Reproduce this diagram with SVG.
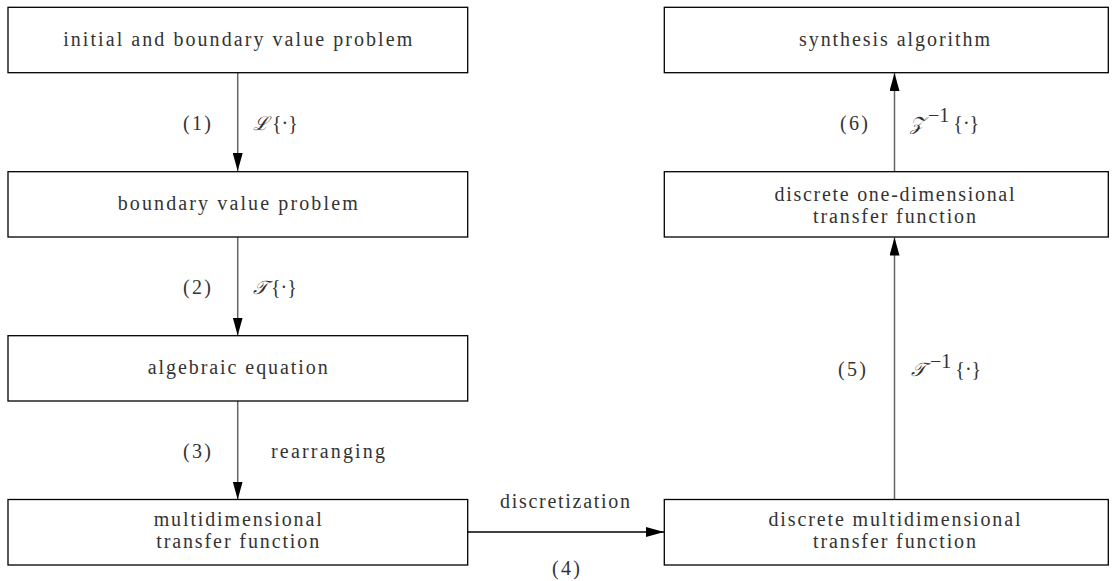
<svg xmlns="http://www.w3.org/2000/svg" width="1115" height="581" viewBox="0 0 1115 581">
<style>
.box{fill:#fff;stroke:#000;stroke-width:1.3}
.t{font-family:"Liberation Serif","DejaVu Serif",serif;font-size:20px;fill:#333;text-anchor:middle}
.l{font-family:"Liberation Serif","DejaVu Serif",serif;font-size:20px;fill:#333}
.m{font-family:"DejaVu Serif","Liberation Serif",serif;font-style:italic;font-size:19px;fill:#333}
.c{stroke:#666;stroke-width:1.5;fill:none}
.ch{stroke:#000;stroke-width:1.3;fill:none}
</style>
<defs>
<marker id="ah" viewBox="0 0 18 10" refX="18" refY="5" markerWidth="18" markerHeight="10" markerUnits="userSpaceOnUse" orient="auto">
<path d="M0,0 L18,5 L0,10 z" fill="#000"/>
</marker>
</defs>
<g id="connectors">
<line class="c" x1="237.7" y1="72.7" x2="237.7" y2="171" marker-end="url(#ah)"/>
<line class="c" x1="237.7" y1="237" x2="237.7" y2="335.5" marker-end="url(#ah)"/>
<line class="c" x1="237.7" y1="401" x2="237.7" y2="499.5" marker-end="url(#ah)"/>
<line class="ch" x1="467.7" y1="532" x2="664" y2="532" marker-end="url(#ah)"/>
<line class="c" x1="894.5" y1="499.5" x2="894.5" y2="237.5" marker-end="url(#ah)"/>
<line class="c" x1="894.5" y1="171.5" x2="894.5" y2="73" marker-end="url(#ah)"/>
<text class="l" x="183" y="130" textLength="28">(1)</text>
<text x="253" y="130"><tspan class="m">ℒ</tspan><tspan class="l" dx="3">{·}</tspan></text>
<text class="l" x="183" y="294" textLength="28">(2)</text>
<text x="253" y="294"><tspan class="m">𝒯</tspan><tspan class="l" dx="3">{·}</tspan></text>
<text class="l" x="183" y="458" textLength="28">(3)</text>
<text class="l" x="271" y="458" textLength="114">rearranging</text>
<text class="l" x="500" y="508" textLength="130">discretization</text>
<text class="l" x="552" y="575" textLength="28">(4)</text>
<text class="l" x="838" y="376" textLength="28">(5)</text>
<text x="911" y="376"><tspan class="m">𝒯</tspan><tspan class="l" font-size="14" dx="4" dy="-8">−1</tspan><tspan class="l" dx="4" dy="8">{·}</tspan></text>
<text class="l" x="840" y="130" textLength="28">(6)</text>
<text x="910" y="130"><tspan class="m">𝒵</tspan><tspan class="l" font-size="14" dx="4" dy="-8">−1</tspan><tspan class="l" dx="4" dy="8">{·}</tspan></text>
</g>
<g id="n1"><rect class="box" x="8" y="7.3" width="459.7" height="65.4"/><text class="t" x="237.7" y="46" textLength="349">initial and boundary value problem</text></g>
<g id="n2"><rect class="box" x="8" y="171.7" width="459.7" height="65.3"/><text class="t" x="237.7" y="210" textLength="240">boundary value problem</text></g>
<g id="n3"><rect class="box" x="8" y="335.7" width="459.7" height="65.3"/><text class="t" x="237.7" y="374" textLength="180">algebraic equation</text></g>
<g id="n4"><rect class="box" x="8" y="499.5" width="459.7" height="65.5"/><text class="t" x="237.7" y="526" textLength="168">multidimensional</text><text class="t" x="237.7" y="548" textLength="163">transfer function</text></g>
<g id="n5"><rect class="box" x="664.3" y="499.5" width="444" height="65.5"/><text class="t" x="894.5" y="526" textLength="252">discrete multidimensional</text><text class="t" x="894.5" y="548" textLength="163">transfer function</text></g>
<g id="n6"><rect class="box" x="664.3" y="171.7" width="444" height="65.3"/><text class="t" x="894.5" y="201" textLength="240">discrete one-dimensional</text><text class="t" x="894.5" y="223" textLength="163">transfer function</text></g>
<g id="n7"><rect class="box" x="664.3" y="7.3" width="444" height="65.4"/><text class="t" x="894.5" y="46" textLength="191">synthesis algorithm</text></g>
</svg>
